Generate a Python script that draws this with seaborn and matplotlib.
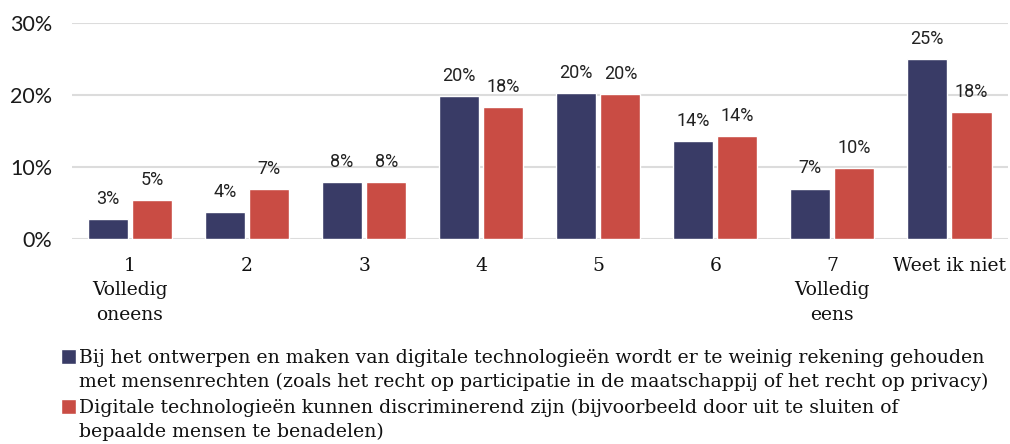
import matplotlib.pyplot as plt
import pandas as pd
import seaborn as sns
from matplotlib.legend_handler import HandlerPatch
from matplotlib.patches import Rectangle

categories = ["1\nVolledig\noneens", "2", "3", "4", "5", "6", "7\nVolledig\neens", "Weet ik niet"]
series_names = [
    "Bij het ontwerpen en maken van digitale technologieën wordt er te weinig rekening gehouden\n"
    "met mensenrechten (zoals het recht op participatie in de maatschappij of het recht op privacy)",
    "Digitale technologieën kunnen discriminerend zijn (bijvoorbeeld door uit te sluiten of\n"
    "bepaalde mensen te benadelen)",
]
values_rights = [2.8, 3.7, 7.9, 19.9, 20.3, 13.6, 7.0, 25.0]
values_discrim = [5.4, 6.9, 7.9, 18.3, 20.1, 14.3, 9.9, 17.6]
colors = ["#393b66", "#c94c44"]

df = pd.DataFrame({
    "cat": categories * 2,
    "value": values_rights + values_discrim,
    "series": [series_names[0]] * 8 + [series_names[1]] * 8,
})

sns.set_theme(style="white")
plt.rcParams["font.family"] = ["DejaVu Serif"]

fig = plt.figure(figsize=(10.1, 4.44), dpi=100)
ax = fig.add_axes([0.0708, 0.4617, 0.927, 0.4865])

sns.barplot(
    data=df, x="cat", y="value", hue="series", palette=colors,
    width=0.76, gap=0.1, ax=ax, saturation=1, legend=True,
)

for cont in ax.containers:
    labels = [f"{round(b.get_height())}%" for b in cont]
    ax.bar_label(cont, labels=labels, padding=8, fontsize=13,
                 family="Roboto", color="#222222")

ax.set_ylim(0, 30)
ax.set_yticks([0, 10, 20, 30])
ax.set_yticklabels(["0%", "10%", "20%", "30%"], family="Lato", fontsize=15.5,
                   color="#1a1a1a")
ax.yaxis.grid(True, color="#dcdcdc", linewidth=1.5)
ax.set_axisbelow(True)
for s in ax.spines.values():
    s.set_visible(False)
ax.tick_params(axis="y", length=0, pad=14)
ax.tick_params(axis="x", length=0, pad=13)
for t in ax.get_xticklabels():
    t.set_fontsize(13.5)
    t.set_color("#111111")
    t.set_linespacing(1.45)
ax.set_xlabel("")
ax.set_ylabel("")


def top_square(legend, orig_handle, xdescent, ydescent, width, height, fontsize):
    # square next to the first line of a two-line label
    side = 0.8 * fontsize
    return Rectangle((-xdescent, -ydescent + 0.72 * fontsize), side, side)


handles, labels = ax.get_legend_handles_labels()
ax.legend_.remove()
leg = fig.legend(
    handles, labels, loc="upper left", bbox_to_anchor=(0.060, 0.214),
    frameon=False, fontsize=13.6, handlelength=0.8, handleheight=0.8,
    handletextpad=0.2, labelspacing=0.45, borderaxespad=0, borderpad=0,
    labelcolor="#111111",
    handler_map={Rectangle: HandlerPatch(patch_func=top_square)},
)
for t in leg.get_texts():
    t.set_linespacing(1.38)

fig.savefig("out.png", dpi=100)
